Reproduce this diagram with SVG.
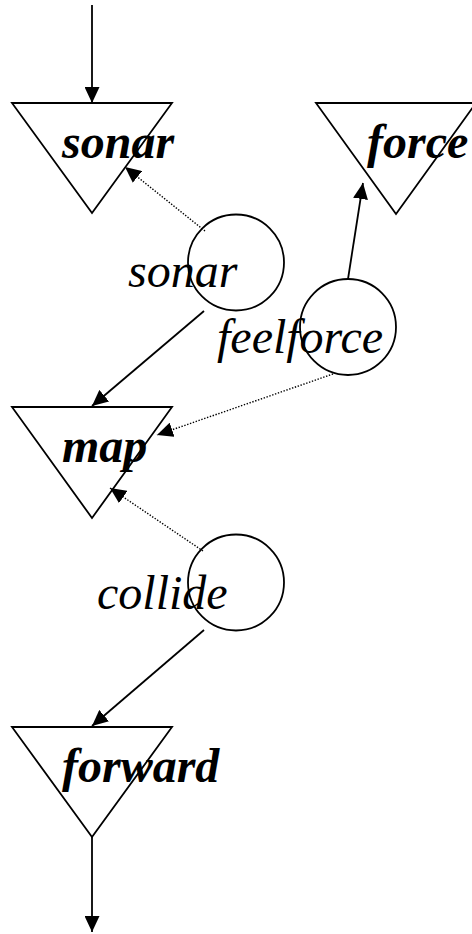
<svg xmlns="http://www.w3.org/2000/svg" width="472" height="934" viewBox="0 0 472 934">
<style>
.tri{fill:none;stroke:#000;stroke-width:1.8}
.circ{fill:none;stroke:#000;stroke-width:1.8}
.solid{fill:none;stroke:#000;stroke-width:1.8}
.dot{fill:none;stroke:#000;stroke-width:1.4;stroke-dasharray:1.4,1.6}
.tl{font-family:"Liberation Serif","Times New Roman",serif;font-size:48px;font-weight:bold;font-style:italic;fill:#000}
.cl{font-family:"Liberation Serif","Times New Roman",serif;font-size:48px;font-style:italic;fill:#000}
</style>
<defs>
<marker id="ah" markerUnits="userSpaceOnUse" markerWidth="16" markerHeight="15" refX="16" refY="7.5" orient="auto">
<path d="M0,0 L16,7.5 L0,15 z" fill="#000"/>
</marker>
</defs>
<g id="node-sonar-out">
<polygon class="tri" points="12,103 172,103 92,213"/>
<text class="tl" x="62" y="158">sonar</text>
</g>
<g id="node-force-out">
<polygon class="tri" points="316,103 476,103 396,214"/>
<text class="tl" x="367" y="158">force</text>
</g>
<g id="node-map">
<polygon class="tri" points="12,407 172,407 92,518"/>
<text class="tl" x="62" y="462">map</text>
</g>
<g id="node-forward">
<polygon class="tri" points="12,727 172,727 92,837"/>
<text class="tl" x="62" y="782">forward</text>
</g>
<g id="node-sonar">
<circle class="circ" cx="236" cy="262.5" r="48"/>
<text class="cl" x="128" y="287">sonar</text>
</g>
<g id="node-feelforce">
<circle class="circ" cx="348" cy="327" r="48"/>
<text class="cl" x="217" y="353">feelforce</text>
</g>
<g id="node-collide">
<circle class="circ" cx="236" cy="582.5" r="48"/>
<text class="cl" x="97" y="609">collide</text>
</g>
<g id="connectors">
<line class="solid" x1="92" y1="5" x2="92" y2="103" marker-end="url(#ah)"/>
<line class="dot" x1="205" y1="231" x2="125" y2="167" marker-end="url(#ah)"/>
<line class="solid" x1="204" y1="311" x2="92" y2="406" marker-end="url(#ah)"/>
<line class="solid" x1="348" y1="279" x2="363" y2="183" marker-end="url(#ah)"/>
<line class="dot" x1="333" y1="374" x2="157" y2="435" marker-end="url(#ah)"/>
<line class="dot" x1="203" y1="551" x2="110" y2="488" marker-end="url(#ah)"/>
<line class="solid" x1="204" y1="630" x2="92" y2="726" marker-end="url(#ah)"/>
<line class="solid" x1="92" y1="837" x2="92" y2="932" marker-end="url(#ah)"/>
</g>
</svg>
